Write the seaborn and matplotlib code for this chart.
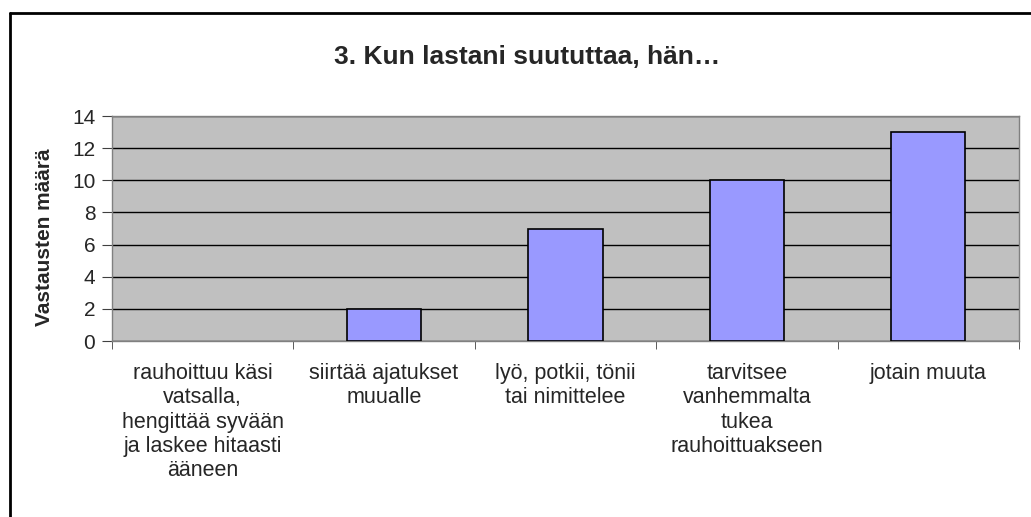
import numpy as np
import pandas as pd
import matplotlib
matplotlib.use("Agg")
import matplotlib.pyplot as plt
import seaborn as sns
from matplotlib.lines import Line2D

# --- data ---
categories = [
    "rauhoittuu käsi\nvatsalla,\nhengittää syvään\nja laskee hitaasti\nääneen",
    "siirtää ajatukset\nmuualle",
    "lyö, potkii, tönii\ntai nimittelee",
    "tarvitsee\nvanhemmalta\ntukea\nrauhoittuakseen",
    "jotain muuta",
]
counts = [0, 2, 7, 10, 13]
yticks = [0, 2, 4, 6, 8, 10, 12, 14]

df = pd.DataFrame({"cat": categories, "n": counts})

sns.set_style("white")
plt.rcParams["font.family"] = ["Liberation Sans", "DejaVu Sans"]

fig = plt.figure(figsize=(10.31, 5.17), dpi=100)
ax = fig.add_axes([0.1086, 0.3404, 0.8797, 0.4352])
ax.set_facecolor("#C0C0C0")

sns.barplot(data=df, x="cat", y="n", color="#9999FF", edgecolor="black",
            linewidth=1.2, width=0.41, saturation=1, ax=ax, zorder=3)
# zero-height bar is not drawn in the original
for p in ax.patches:
    if p.get_height() == 0:
        p.set_visible(False)

ax.set_xlim(-0.5, len(categories) - 0.5)
ax.set_ylim(0, 14)
ax.set_yticks(yticks)
ax.yaxis.grid(True, color="black", linewidth=1, zorder=1)
ax.set_axisbelow(True)
ax.tick_params(axis="y", labelsize=15, length=7, left=True, direction="out", pad=5,
               color="#404040")
ax.tick_params(axis="x", labelsize=15.5, length=0, pad=16)
ax.set_xticks(np.arange(-0.5, len(categories)), minor=True)
ax.tick_params(axis="x", which="minor", length=6, bottom=True, color="#404040")
for lbl in ax.get_xticklabels():
    lbl.set_linespacing(1.2)
    lbl.set_va("top")

for side in ["left", "bottom", "right", "top"]:
    ax.spines[side].set_color("#808080")
    ax.spines[side].set_linewidth(1)

ax.set_xlabel("")
ax.set_ylabel("Vastausten määrä", fontsize=15, fontweight="bold")
ax.yaxis.set_label_coords(-0.064, 0.46)

fig.text(0.511, 0.89, "3. Kun lastani suututtaa, hän…", ha="center", va="center",
         fontsize=19, fontweight="bold")

# chart border (left and top visible)
fig.add_artist(Line2D([0.0097, 0.0097], [0, 0.975], transform=fig.transFigure,
                      color="black", linewidth=2))
fig.add_artist(Line2D([0.0097, 1.0], [0.975, 0.975], transform=fig.transFigure,
                      color="black", linewidth=2))

fig.savefig("out.png", dpi=100)
